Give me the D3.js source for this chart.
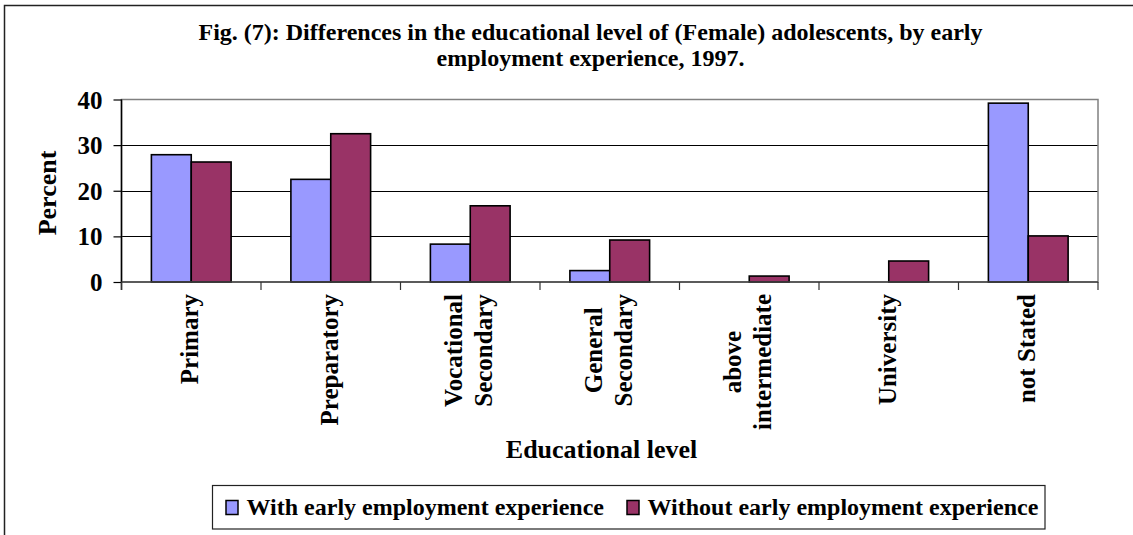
<!DOCTYPE html>
<html><head><meta charset="utf-8">
<script src="https://cdn.jsdelivr.net/npm/d3@7"></script>
<style>html,body{margin:0;padding:0;background:#fff;}svg{display:block;}text{font-family:"Liberation Serif","Times New Roman",serif;font-weight:bold;fill:#000;}</style>
</head><body>
<svg id="chart" width="1133" height="535"></svg>
<script>
const categories = ["Primary","Preparatory","Vocational Secondary","General Secondary","above intermediate","University","not Stated"];
const categoryLines = [["Primary"],["Preparatory"],["Vocational","Secondary"],["General","Secondary"],["above","intermediate"],["University"],["not Stated"]];
const seriesNames = ["With early employment experience","Without early employment experience"];
const withEarly = [27.9, 22.5, 8.3, 2.5, 0, 0, 39.2];
const withoutEarly = [26.3, 32.5, 16.7, 9.2, 1.3, 4.6, 10.1];
const yTicks = [0,10,20,30,40];
const titleLines = ["Fig. (7): Differences in the educational level of (Female) adolescents, by early","employment experience, 1997."];
const colors = ["#9999FF","#993366"];

const svg = d3.select("#chart");
// outer border
svg.append("rect").attr("x",4.5).attr("y",5.5).attr("width",1300).attr("height",700)
  .attr("fill","#fff").attr("stroke","#222").attr("stroke-width",1.5);

const L=121.5, R=1098, T=99.5, B=282;
const x0 = d3.scaleBand().domain(categories).range([L,R]).padding(0);
const x1 = d3.scaleBand().domain(seriesNames).range([0,x0.bandwidth()]).paddingInner(0).paddingOuter(0.75);
const y = d3.scaleLinear().domain([0,40]).range([B,T]);

// title
svg.append("g").selectAll("text").data(titleLines).join("text")
  .attr("x",590.5).attr("y",(d,i)=>40+i*25.5).attr("text-anchor","middle")
  .style("font-size","24px").text(d=>d);

// gridlines
svg.append("g").selectAll("line").data(yTicks.filter(t=>t>0&&t<40)).join("line")
  .attr("x1",L).attr("x2",R).attr("y1",d=>Math.round(y(d))+0.5).attr("y2",d=>Math.round(y(d))+0.5)
  .attr("stroke","#000").attr("stroke-width",1);
// plot border
svg.append("rect").attr("x",L).attr("y",T).attr("width",R-L).attr("height",B-T)
  .attr("fill","none").attr("stroke","#808080").attr("stroke-width",1.5);

// bars
const data = categories.map((c,i)=>({cat:c, vals:[withEarly[i],withoutEarly[i]]}));
const gb = svg.append("g");
data.forEach(d=>{
  d.vals.forEach((v,j)=>{
    if(v<=0) return;
    gb.append("rect")
      .attr("x",x0(d.cat)+x1(seriesNames[j]))
      .attr("y",y(v)).attr("width",x1.bandwidth()).attr("height",y(0)-y(v))
      .attr("fill",colors[j]).attr("stroke","#000").attr("stroke-width",1.6);
  });
});

// y axis
const yAxis = d3.axisLeft(y).tickValues(yTicks).tickSize(8).tickPadding(11).tickFormat(d3.format("d"));
const ga = svg.append("g").attr("transform",`translate(${L},0)`).call(yAxis);
ga.select(".domain").remove();
ga.selectAll(".tick line").attr("stroke","#000").attr("stroke-width",1.2);
ga.selectAll(".tick text").style("font-size","25px").attr("fill","#000").attr("dy","0.34em");
svg.append("line").attr("x1",L).attr("x2",L).attr("y1",T).attr("y2",B+8).attr("stroke","#000").attr("stroke-width",1.5);
// x axis line
svg.append("line").attr("x1",L).attr("x2",R).attr("y1",B).attr("y2",B).attr("stroke","#444").attr("stroke-width",1.5);
// category ticks
const bounds = categories.map(c=>x0(c)).concat([R]);
svg.append("g").selectAll("line").data(bounds).join("line")
  .attr("x1",d=>d).attr("x2",d=>d).attr("y1",B).attr("y2",B+8).attr("stroke","#333").attr("stroke-width",1.2);

// category labels
categories.forEach((c,i)=>{
  const lines = categoryLines[i];
  const cx = x0(c)+x0.bandwidth()/2;
  const g = svg.append("g").attr("transform",`translate(${cx},294) rotate(-90)`);
  const texts = lines.map((ln,k)=>g.append("text").attr("text-anchor","middle")
    .attr("y",7+(k-(lines.length-1)/2)*30).style("font-size","25px").text(ln));
  const maxLen = d3.max(texts, t=>t.node().getComputedTextLength());
  texts.forEach(t=>t.attr("x",-maxLen/2));
});

// axis titles
svg.append("text").attr("transform","translate(56,193) rotate(-90)").attr("text-anchor","middle")
  .style("font-size","26px").text("Percent");
svg.append("text").attr("x",601.5).attr("y",458).attr("text-anchor","middle")
  .style("font-size","26px").text("Educational level");

// legend
const lg = svg.append("g");
lg.append("rect").attr("x",212.5).attr("y",485.5).attr("width",832.5).attr("height",43.5)
  .attr("fill","#fff").attr("stroke","#222").attr("stroke-width",1.2);
const legX = [226, 627];
seriesNames.forEach((s,j)=>{
  lg.append("rect").attr("x",legX[j]).attr("y",500.5).attr("width",12).attr("height",14)
    .attr("fill",colors[j]).attr("stroke","#000").attr("stroke-width",1.5);
  lg.append("text").attr("x",legX[j]+20.5).attr("y",515).style("font-size","24px").text(s);
});
</script>
</body></html>
